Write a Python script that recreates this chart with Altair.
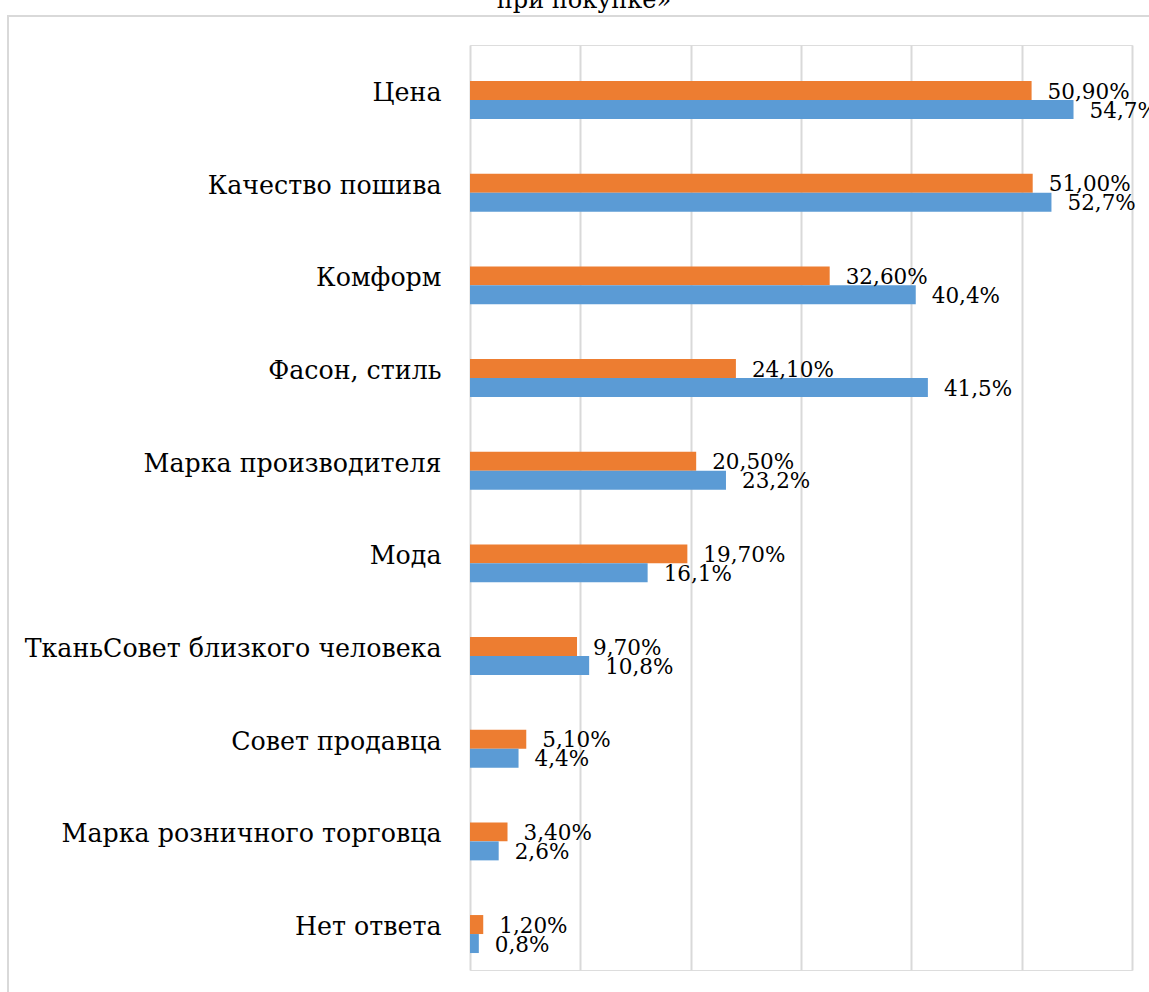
import altair as alt
import pandas as pd

categories = [
    "Цена\u00a0",
    "Качество пошива",
    "Комформ",
    "Фасон, стиль",
    "Марка производителя",
    "Мода",
    "ТканьСовет близкого человека",
    "Совет продавца",
    "Марка розничного торговца",
    "Нет ответа",
]
orange_values = [50.90, 51.00, 32.60, 24.10, 20.50, 19.70, 9.70, 5.10, 3.40, 1.20]
blue_values = [54.7, 52.7, 40.4, 41.5, 23.2, 16.1, 10.8, 4.4, 2.6, 0.8]
title_line = "при покупке»"

rows = []
for c, o, b in zip(categories, orange_values, blue_values):
    rows.append({"cat": c, "series": "a", "value": o,
                 "label": f"{o:.2f}".replace(".", ",") + "%"})
    rows.append({"cat": c, "series": "b", "value": b,
                 "label": f"{b:.1f}".replace(".", ",") + "%"})
df = pd.DataFrame(rows)

FONT = "DejaVu Serif"
W, H = 662, 925
PL, PT, PR, PB = 470, 45, 17, 22

yscale = alt.Scale(paddingInner=0.59, paddingOuter=0.286, align=0.68)
yenc = alt.Y("cat:N", sort=categories, scale=yscale,
             axis=alt.Axis(title=None, ticks=False, domain=False,
                           labelFont=FONT, labelFontSize=25.3, labelColor="black",
                           labelPadding=29, labelLimit=500, labelOffset=-7))
yoff = alt.YOffset("series:N", sort=["a", "b"])
xenc = alt.X("value:Q", scale=alt.Scale(domain=[0, 60], nice=False),
             axis=alt.Axis(title=None, labels=False, ticks=False, domain=False,
                           values=[0, 10, 20, 30, 40, 50, 60],
                           grid=True, gridColor="#d9d9d9", gridWidth=2))

bars = alt.Chart(df).mark_bar().encode(
    y=yenc, yOffset=yoff, x=xenc,
    color=alt.Color("series:N", scale=alt.Scale(domain=["a", "b"],
                                                range=["#ED7D31", "#5B9BD5"]),
                    legend=None),
)

labels = alt.Chart(df).mark_text(align="left", baseline="middle", dx=16, dy=2,
                                 font=FONT, fontSize=21.5, color="black").encode(
    y=alt.Y("cat:N", sort=categories), yOffset=yoff, x="value:Q", text="label:N",
)

frame_df = pd.DataFrame({"k": [0]})
frame = alt.Chart(frame_df).mark_rect(fill=None, stroke="#d9d9d9", strokeWidth=2).encode(
    x=alt.value(8 - PL), x2=alt.value(1200 - PL),
    y=alt.value(16 - PT), y2=alt.value(1050 - PT),
)

title = alt.Chart(pd.DataFrame({"t": [title_line]})).mark_text(
    align="center", baseline="alphabetic", font=FONT, fontSize=24, color="black"
).encode(x=alt.value(584 - PL), y=alt.value(8 - PT), text="t:N")

chart = alt.layer(frame, bars, labels, title).properties(
    width=W, height=H,
    autosize=alt.AutoSizeParams(type="none"),
    padding={"left": PL, "top": PT, "right": PR, "bottom": PB},
).configure_view(stroke=None).configure(background="white")

chart.save("out.html", embed_options={"renderer": "svg", "actions": False})
